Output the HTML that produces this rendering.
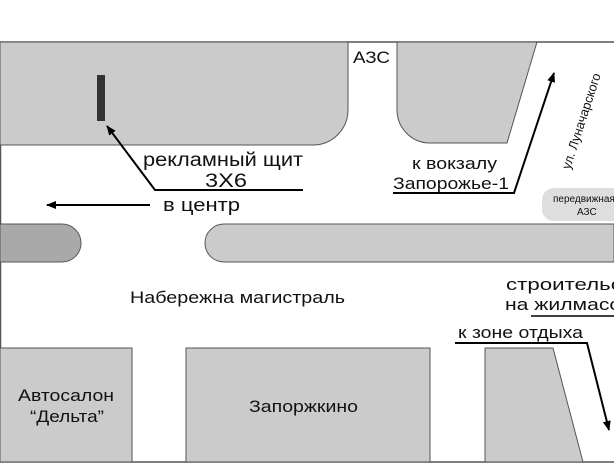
<!DOCTYPE html>
<html><head><meta charset="utf-8"><style>
html,body{margin:0;padding:0;background:#fff;}
svg{display:block;}
text{font-family:"Liberation Sans",sans-serif;fill:#111;}
</style></head><body>
<svg width="614" height="464" viewBox="0 0 614 464" xmlns="http://www.w3.org/2000/svg">
<defs>
<marker id="ah" markerWidth="10" markerHeight="8" refX="9" refY="4" orient="auto" markerUnits="userSpaceOnUse">
<path d="M0,0 L10,4 L0,8 z" fill="#000"/></marker>
</defs>
<line x1="0" y1="42" x2="614" y2="42" stroke="#555" stroke-width="1.5"/>
<line x1="0.5" y1="42" x2="0.5" y2="462" stroke="#555" stroke-width="1.5"/>
<line x1="0" y1="462" x2="614" y2="462" stroke="#555" stroke-width="1.5"/>
<path d="M0,42 H348 V110 A35,35 0 0 1 313,145 H0 Z" fill="#cbcbcb" stroke="#555" stroke-width="1"/>
<rect x="97" y="75" width="8" height="46" fill="#333"/>
<text x="353" y="63" font-size="17" textLength="37" lengthAdjust="spacingAndGlyphs">АЗС</text>
<path d="M397,42 H537 L507,143 H430 A33,33 0 0 1 397,110 Z" fill="#cbcbcb" stroke="#555" stroke-width="1"/>
<polyline points="303,190 155,190 107,126" fill="none" stroke="#000" stroke-width="2" marker-end="url(#ah)"/>
<text x="143" y="166" font-size="19" textLength="160" lengthAdjust="spacingAndGlyphs">рекламный щит</text>
<text x="205" y="187" font-size="19" textLength="42" lengthAdjust="spacingAndGlyphs">3X6</text>
<line x1="150" y1="205" x2="47" y2="205" stroke="#000" stroke-width="2" marker-end="url(#ah)"/>
<text x="163" y="211" font-size="18" textLength="77" lengthAdjust="spacingAndGlyphs">в центр</text>
<polyline points="393,193 514,193 554,73" fill="none" stroke="#000" stroke-width="2" marker-end="url(#ah)"/>
<text x="412" y="169" font-size="17" textLength="85" lengthAdjust="spacingAndGlyphs">к вокзалу</text>
<text x="393" y="189" font-size="17" textLength="116" lengthAdjust="spacingAndGlyphs">Запорожье-1</text>
<text transform="translate(570,170) rotate(-72)" font-size="13" textLength="100" lengthAdjust="spacingAndGlyphs">ул. Луначарского</text>
<rect x="542" y="188" width="90" height="33" rx="12" fill="#dedede"/>
<text x="553" y="202" font-size="10">передвижная</text>
<text x="577" y="215" font-size="10">АЗС</text>
<path d="M0,224 H62 A19,19 0 0 1 62,262 H0 Z" fill="#a9a9a9" stroke="#555" stroke-width="1"/>
<path d="M224,224 H614 V262 H224 A19,19 0 0 1 224,224 Z" fill="#cbcbcb" stroke="#555" stroke-width="1"/>
<text x="130" y="303" font-size="17" textLength="215" lengthAdjust="spacingAndGlyphs">Набережна магистраль</text>
<text x="506" y="290" font-size="17" textLength="150" lengthAdjust="spacingAndGlyphs">строительство</text>
<text x="505" y="310" font-size="17" textLength="138" lengthAdjust="spacingAndGlyphs">на жилмассив</text>
<line x1="531" y1="316" x2="614" y2="316" stroke="#000" stroke-width="1.5"/>
<text x="458" y="338" font-size="17" textLength="125" lengthAdjust="spacingAndGlyphs">к зоне отдыха</text>
<polyline points="455,343 587,343 609,430" fill="none" stroke="#000" stroke-width="2" marker-end="url(#ah)"/>
<rect x="0" y="348" width="132" height="114" fill="#cbcbcb" stroke="#555" stroke-width="1"/>
<rect x="186" y="348" width="244" height="114" fill="#cbcbcb" stroke="#555" stroke-width="1"/>
<path d="M485,348 H553 L583,462 H485 Z" fill="#cbcbcb" stroke="#555" stroke-width="1"/>
<text x="18" y="401" font-size="17" textLength="96" lengthAdjust="spacingAndGlyphs">Автосалон</text>
<text x="30" y="422" font-size="17" textLength="74" lengthAdjust="spacingAndGlyphs">“Дельта”</text>
<text x="249" y="412" font-size="17" textLength="109" lengthAdjust="spacingAndGlyphs">Запоржкино</text>
</svg>
</body></html>
